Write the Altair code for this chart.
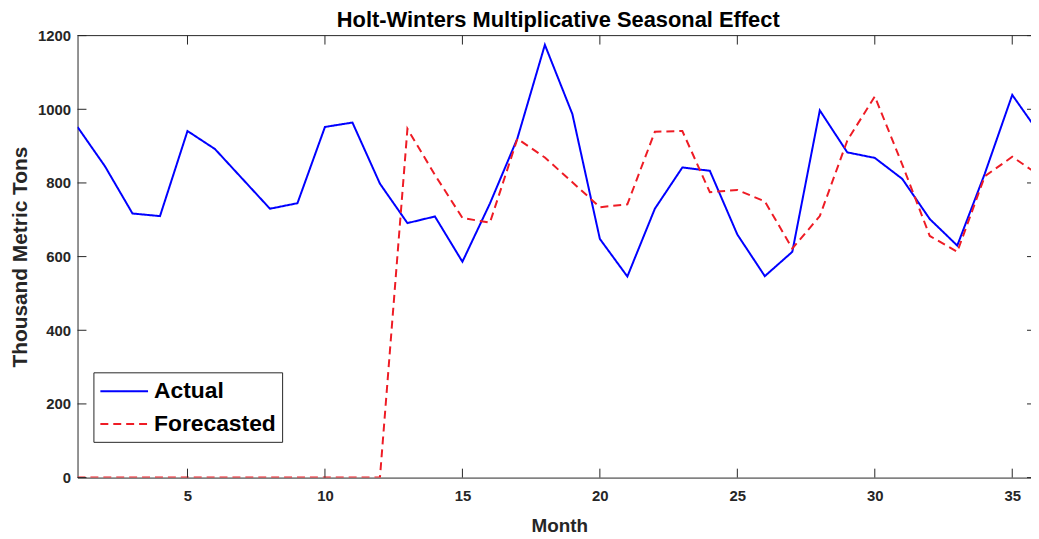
import altair as alt
import pandas as pd

# ---- data ----
months = list(range(1, 37))
actual = [952, 845, 717, 710, 941, 892, 811, 730, 745, 952, 964, 798,
          691, 709, 586, 744, 921, 1175, 987, 648, 546, 730, 842, 833,
          660, 547, 613, 997, 883, 868, 811, 702, 630, 825, 1039, 933]
forecasted = [0, 0, 0, 0, 0, 0, 0, 0, 0, 0, 0, 0,
              947, 822, 705, 692, 920, 869, 802, 734, 742, 939, 941, 775,
              781, 750, 622, 710, 915, 1035, 850, 656, 613, 818, 871, 820]
series_names = ["Actual", "Forecasted"]
x_ticks = [5, 10, 15, 20, 25, 30, 35]
y_ticks = [0, 200, 400, 600, 800, 1000, 1200]

# ---- layout / style ----
W = 960
H = 445
PX_PER_MONTH = 27.68
XMAX = 1 + W / PX_PER_MONTH
FONT = "Liberation Sans"
AX = "#262626"
TICK = 9

df = pd.DataFrame({
    "Month": months + months,
    "Value": actual + forecasted,
    "Series": [series_names[0]] * len(months) + [series_names[1]] * len(months),
})
xt = pd.DataFrame({"t": x_ticks})
yt = pd.DataFrame({"t": y_ticks})
one = pd.DataFrame({"t": [0]})

xscale = alt.Scale(domain=[1, XMAX], nice=False, zero=False)
yscale = alt.Scale(domain=[0, 1200], nice=False)

legend = alt.Legend(
    title=None, orient="none", legendX=16, legendY=339, direction="vertical",
    symbolType="M-2,0H2", symbolSize=576, symbolStrokeWidth=2, symbolOffset=12,
    labelFont=FONT, labelFontSize=23, labelFontWeight="bold", labelColor="black",
    labelOffset=17, padding=6, rowPadding=8,
    strokeColor=AX, fillColor="white", cornerRadius=0,
)

x_axis = alt.Axis(values=x_ticks, labelPadding=11, titleFontSize=19,
                  titleX=485, titleY=54, titleBaseline="alphabetic",
                  titleAlign="center")
y_axis = alt.Axis(values=y_ticks, format="d", labelPadding=7, titleFontSize=21,
                  titleX=-57, titleY=H / 2, titleBaseline="middle",
                  titleAlign="center", titleAngle=270)

lines = alt.Chart(df).mark_line(strokeWidth=2, clip=True).encode(
    x=alt.X("Month:Q", scale=xscale, title="Month", axis=x_axis),
    y=alt.Y("Value:Q", scale=yscale, title="Thousand Metric Tons", axis=y_axis),
    color=alt.Color("Series:N",
                    scale=alt.Scale(domain=series_names, range=["#0000ff", "#ee1c25"]),
                    legend=legend),
    strokeDash=alt.StrokeDash("Series:N",
                              scale=alt.Scale(domain=series_names, range=[[1, 0], [8, 5]]),
                              legend=legend),
)

rule = dict(color=AX, strokeWidth=1)
bottom_ticks = alt.Chart(xt).mark_rule(**rule).encode(
    x=alt.X("t:Q", scale=xscale, title="Month"),
    y=alt.value(H), y2=alt.value(H - TICK))
top_ticks = alt.Chart(xt).mark_rule(**rule).encode(
    x=alt.X("t:Q", scale=xscale, title="Month"),
    y=alt.value(0), y2=alt.value(TICK))
left_ticks = alt.Chart(yt).mark_rule(**rule).encode(
    y=alt.Y("t:Q", scale=yscale, title="Thousand Metric Tons"),
    x=alt.value(0), x2=alt.value(TICK))
right_ticks = alt.Chart(yt).mark_rule(**rule).encode(
    y=alt.Y("t:Q", scale=yscale, title="Thousand Metric Tons"),
    x=alt.value(W - 4), x2=alt.value(W))
top_border = alt.Chart(one).mark_rule(**rule).encode(
    x=alt.value(0), x2=alt.value(W), y=alt.value(0))

chart = alt.layer(
    lines, top_border, bottom_ticks, top_ticks, left_ticks, right_ticks
).properties(
    width=W, height=H,
    title=alt.TitleParams(
        text="Holt-Winters Multiplicative Seasonal Effect",
        font=FONT, fontSize=22, fontWeight="bold", color="black",
        offset=-3, dx=4, anchor="middle"),
    autosize=alt.AutoSizeParams(type="none"),
    padding={"left": 70, "top": 26, "right": 0, "bottom": 58},
).configure_view(
    stroke=None
).configure_axis(
    labelFont=FONT, labelFontSize=15, labelFontWeight="bold", labelColor=AX,
    titleFont=FONT, titleFontWeight="bold", titleColor=AX,
    domainColor=AX, domainWidth=1, ticks=False, grid=False,
)

chart.save("out.html", embed_options={"renderer": "svg", "actions": False})
